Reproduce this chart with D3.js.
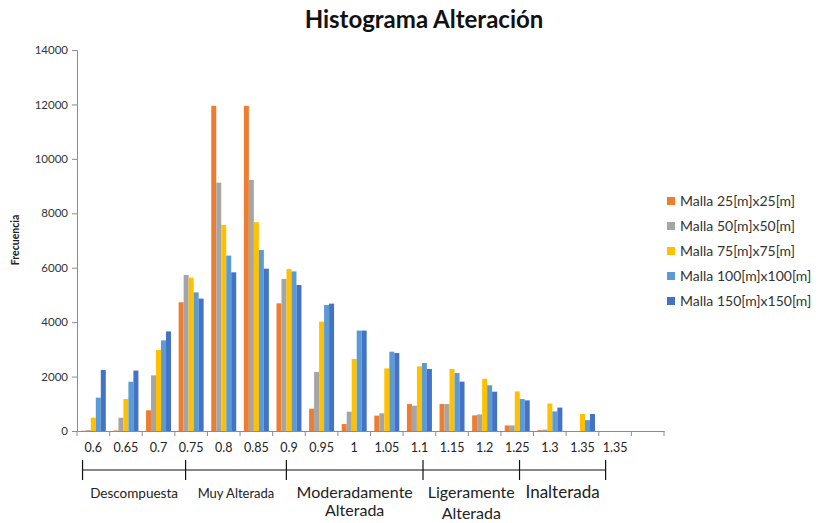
<!DOCTYPE html>
<html>
<head>
<meta charset="utf-8">
<script src="https://cdn.jsdelivr.net/npm/d3@7/dist/d3.min.js"></script>
<style>
  html, body { margin: 0; padding: 0; background: #fff; }
  svg { display: block; font-family: Lato, "Open Sans", sans-serif; }
</style>
</head>
<body>
<svg id="chart" width="825" height="523"></svg>
<script>
// ---- data ----
const categories = ["0.6","0.65","0.7","0.75","0.8","0.85","0.9","0.95","1","1.05","1.1","1.15","1.2","1.25","1.3","1.35","1.35",""];
const seriesNames = ["Malla 25[m]x25[m]","Malla 50[m]x50[m]","Malla 75[m]x75[m]","Malla 100[m]x100[m]","Malla 150[m]x150[m]"];
const malla25  = [10, 20, 760, 4730, 11950, 11950, 4690, 820, 255, 565, 990, 990, 575, 205, 30, 0, 0, 0];
const malla50  = [30, 490, 2045, 5730, 9125, 9225, 5585, 2170, 710, 650, 930, 990, 610, 205, 50, 0, 0, 0];
const malla75  = [490, 1175, 2975, 5635, 7570, 7670, 5950, 4020, 2645, 2300, 2375, 2280, 1920, 1455, 1010, 625, 0, 0];
const malla100 = [1225, 1810, 3330, 5095, 6445, 6650, 5865, 4630, 3690, 2915, 2500, 2130, 1680, 1175, 720, 400, 0, 0];
const malla150 = [2240, 2220, 3660, 4865, 5830, 5965, 5365, 4680, 3690, 2865, 2280, 1815, 1445, 1125, 860, 625, 0, 0];
const yTicks = [0, 2000, 4000, 6000, 8000, 10000, 12000, 14000];
const groupNames = [["Descompuesta"], ["Muy Alterada"], ["Moderadamente", "Alterada"], ["Ligeramente", "Alterada"], ["Inalterada"]];
const groupBounds = [0.17, 3.33, 6.42, 10.61, 13.57, 16.21]; // in category units
const colors = ["#ED7D31", "#A5A5A5", "#FFC000", "#5B9BD5", "#4472C4"];

const series = [malla25, malla50, malla75, malla100, malla150];

// ---- layout ----
const svg = d3.select("#chart");
const plot = { left: 77, right: 664, top: 50, bottom: 431 };
const idx = d3.range(categories.length);

const x0 = d3.scaleBand().domain(idx).range([plot.left, plot.right]).paddingInner(0).paddingOuter(0);
const bw = x0.bandwidth();
const x1 = d3.scaleBand().domain(d3.range(series.length)).range([bw * 0.117, bw * 0.883]).padding(0);
const y = d3.scaleLinear().domain([0, 14000]).range([plot.bottom, plot.top]);
const catUnits = d3.scaleLinear().domain([0, categories.length]).range([plot.left, plot.right]);

// title
svg.append("text")
  .attr("x", 424).attr("y", 28)
  .attr("text-anchor", "middle")
  .style("font-size", "24px").style("font-weight", "bold").style("fill", "#111")
  .text("Histograma Alteración");

// bars
const groups = svg.append("g").selectAll("g")
  .data(series).join("g")
  .attr("fill", (d, i) => colors[i]);
groups.each(function(vals, si) {
  d3.select(this).selectAll("rect")
    .data(vals.map((v, ci) => ({ v, ci })))
    .join("rect")
    .attr("x", d => x0(d.ci) + x1(si))
    .attr("width", x1.bandwidth())
    .attr("y", d => y(d.v))
    .attr("height", d => y(0) - y(d.v));
});

// y axis
const yAxis = d3.axisLeft(y).tickValues(yTicks).tickSize(5).tickPadding(4).tickFormat(d3.format("d"));
const gy = svg.append("g").attr("transform", `translate(${plot.left},0)`).call(yAxis);
gy.select(".domain").attr("stroke", "#8c8c8c");
gy.selectAll(".tick line").attr("stroke", "#8c8c8c");
gy.selectAll(".tick text").style("font-size", "11.5px").style("fill", "#333").style("font-family", "Lato, sans-serif");

// x axis (ticks at category boundaries)
const xAxis = d3.axisBottom(x0).tickSize(0).tickPadding(12).tickFormat(i => categories[i]);
const gx = svg.append("g").attr("transform", `translate(0,${plot.bottom})`).call(xAxis);
gx.select(".domain").attr("stroke", "#8c8c8c");
gx.selectAll(".tick text").style("font-size", "12.5px").style("fill", "#222").style("font-family", "Lato, sans-serif");
gx.selectAll("line.bound")
  .data(d3.range(categories.length + 1)).join("line")
  .attr("class", "bound")
  .attr("x1", d => catUnits(d)).attr("x2", d => catUnits(d))
  .attr("y1", 0).attr("y2", 5)
  .attr("stroke", "#8c8c8c");

// y title
svg.append("text")
  .attr("transform", "translate(19,240) rotate(-90)")
  .attr("text-anchor", "middle")
  .style("font-size", "10.5px").style("font-weight", "bold").style("fill", "#222")
  .text("Frecuencia");

// group brackets
const bracketY = 470;
const gb = svg.append("g").attr("stroke", "#111").attr("stroke-width", 1.2);
gb.append("line")
  .attr("x1", catUnits(groupBounds[0])).attr("x2", catUnits(groupBounds[groupBounds.length - 1]))
  .attr("y1", bracketY).attr("y2", bracketY);
gb.selectAll("line.tk").data(groupBounds).join("line").attr("class", "tk")
  .attr("x1", d => catUnits(d)).attr("x2", d => catUnits(d))
  .attr("y1", bracketY - 10).attr("y2", bracketY + 10);

const groupFont = [13.5, 13, 16, 16, 17];
groupNames.forEach((lines, gi) => {
  const cx = (catUnits(groupBounds[gi]) + catUnits(groupBounds[gi + 1])) / 2;
  const t = svg.append("text")
    .attr("x", cx).attr("y", 498)
    .attr("text-anchor", "middle")
    .style("font-size", groupFont[gi] + "px").style("fill", "#222");
  lines.forEach((ln, li) => {
    t.append("tspan").attr("x", cx).attr("dy", li === 0 ? 0 : (gi === 3 ? 21 : 18)).text(ln);
  });
});

// legend
const leg = svg.append("g").attr("transform", "translate(667,201)");
seriesNames.forEach((name, i) => {
  const g = leg.append("g").attr("transform", `translate(0,${i * 25})`);
  g.append("rect").attr("x", 0).attr("y", -4).attr("width", 8).attr("height", 8).attr("fill", colors[i]);
  g.append("text").attr("x", 13).attr("y", 0).attr("dy", "0.35em")
    .style("font-size", "14px").style("fill", "#333").text(name);
});
</script>
</body>
</html>
